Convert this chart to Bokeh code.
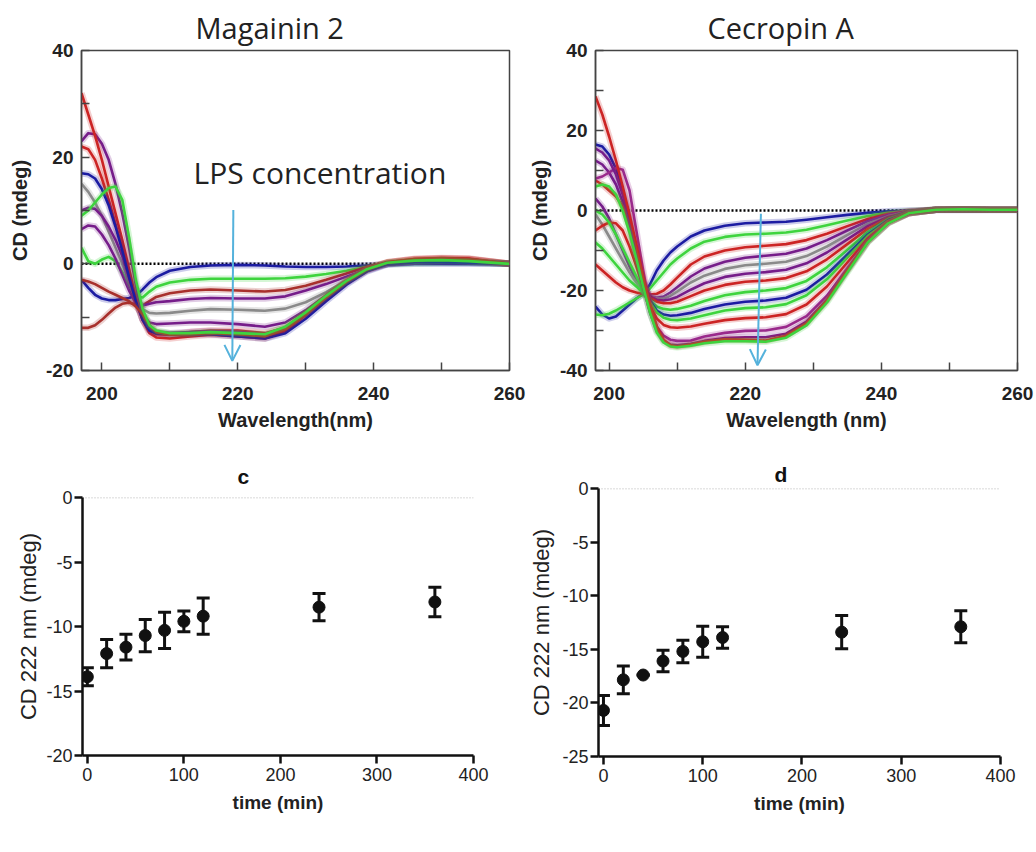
from bokeh.plotting import figure
from bokeh.models import (Range1d, FixedTicker, Arrow, OpenHead, Label, Whisker,
                          ColumnDataSource, TeeHead, Span, PrintfTickFormatter)
from bokeh.layouts import column, row
from bokeh.embed import file_html
from bokeh.resources import INLINE

# ---------------- data: Magainin 2 spectra ----------------
wl_mag = [197, 198, 199, 200, 201, 202, 203, 204, 205, 206, 207, 208, 210, 213,
          216, 220, 224, 227, 230, 233, 236, 239, 242, 246, 250, 254, 260]

m_blue1 = [-3.0, -4.5, -5.8, -6.5, -6.8, -6.8, -6.6, -6.4, -6.0, -4.8, -3.5, -2.5, -1.3, -0.6,
           -0.3, -0.2, -0.3, -0.5, -0.6, -0.6, -0.5, -0.3, -0.1, 0.0, 0.0, 0.0, 0.0]
m_green1 = [3.0, 0.5, 0.0, 0.8, 1.3, 0.5, -1.5, -4.0, -6.0, -6.3, -5.2, -4.3, -3.5, -3.0,
            -2.8, -2.8, -2.8, -2.7, -2.4, -1.9, -1.3, -0.6, -0.1, 0.1, 0.2, 0.2, 0.0]
m_red1 = [-12.0, -12.0, -11.5, -10.5, -9.3, -8.2, -7.5, -7.3, -7.6, -7.8, -7.0, -6.2, -5.5, -5.0,
          -4.8, -5.0, -5.2, -4.9, -4.1, -3.0, -1.8, -0.6, 0.2, 0.7, 0.9, 0.8, 0.0]
m_purple1 = [6.5, 7.2, 7.0, 5.5, 3.5, 1.0, -2.0, -5.0, -7.3, -7.8, -7.5, -7.2, -7.0, -6.6,
             -6.4, -6.5, -6.5, -6.1, -5.0, -3.8, -2.4, -1.0, 0.0, 0.4, 0.5, 0.4, 0.0]
m_gray = [15.0, 13.5, 11.5, 9.0, 6.0, 3.0, 0.0, -3.5, -6.5, -8.5, -9.2, -9.3, -9.2, -8.8,
          -8.5, -8.6, -8.8, -8.4, -7.2, -5.3, -3.1, -1.2, 0.0, 0.4, 0.5, 0.4, 0.0]
m_purple2 = [10.0, 10.5, 10.3, 9.0, 7.0, 4.5, 1.5, -2.5, -6.5, -9.5, -11.0, -11.3, -11.2, -11.0,
             -11.0, -11.3, -11.8, -11.0, -8.7, -5.9, -3.2, -1.1, 0.1, 0.5, 0.7, 0.6, 0.0]
m_green2 = [9.0, 10.0, 11.5, 13.0, 14.2, 14.5, 12.0, 5.0, -3.0, -8.5, -11.5, -12.5, -13.0, -13.0,
            -12.8, -13.0, -13.2, -11.8, -9.1, -6.0, -3.2, -1.0, 0.2, 0.6, 0.7, 0.5, 0.0]
m_red2 = [22.0, 21.5, 19.5, 16.0, 12.0, 7.5, 3.0, -2.0, -7.0, -10.5, -12.5, -13.2, -13.3, -12.8,
          -12.5, -12.5, -13.0, -12.0, -9.3, -6.2, -3.3, -1.0, 0.3, 0.9, 1.0, 0.9, 0.0]
m_red3 = [32.0, 28.0, 24.0, 19.5, 14.5, 9.5, 4.5, -1.0, -6.5, -10.5, -13.0, -13.8, -14.0, -13.6,
          -13.3, -13.6, -14.0, -12.6, -9.6, -6.3, -3.3, -1.0, 0.3, 0.9, 1.1, 1.0, 0.0]
m_purple3 = [23.0, 24.5, 24.3, 22.5, 19.5, 15.0, 9.5, 3.0, -4.0, -9.5, -12.0, -12.8, -13.0, -12.8,
             -12.6, -12.8, -13.3, -12.3, -9.6, -6.6, -3.6, -1.3, 0.0, 0.4, 0.5, 0.4, 0.0]
m_blue2 = [17.0, 16.8, 16.0, 14.0, 11.0, 7.0, 2.5, -2.5, -7.0, -10.5, -12.5, -13.0, -13.2, -13.2,
           -13.2, -13.6, -14.0, -13.0, -10.3, -7.0, -3.9, -1.4, -0.1, 0.3, 0.3, 0.2, 0.0]
m_red4 = [-3.0, -3.3, -3.8, -4.5, -5.2, -5.8, -6.4, -7.0, -8.0, -9.5, -11.5, -12.8, -13.3, -13.2,
          -13.0, -13.2, -13.6, -12.3, -9.4, -6.3, -3.4, -1.1, 0.2, 0.8, 1.0, 0.9, 0.0]

# ---------------- data: Cecropin A spectra ----------------
wl_cec = [198, 199, 200, 201, 202, 203, 204, 205, 206, 207, 208, 209, 210, 212, 214,
          217, 220, 223, 226, 229, 232, 235, 238, 241, 244, 248, 252, 256, 260]

c_blue1 = [-24.0, -26.0, -27.0, -26.5, -25.0, -23.5, -22.0, -20.8, -18.5, -15.0, -12.5, -10.5, -9.0, -6.5, -5.0,
           -3.8, -3.2, -3.0, -2.8, -2.3, -1.7, -1.1, -0.6, -0.2, 0.0, 0.1, 0.1, 0.1, 0.1]
c_green1 = [-26.0, -26.2, -25.8, -25.0, -24.0, -23.0, -22.0, -21.0, -19.5, -17.5, -15.5, -13.5, -12.0, -9.5, -7.8,
            -6.6, -6.0, -5.8, -5.5, -4.8, -3.7, -2.5, -1.4, -0.6, -0.1, 0.2, 0.2, 0.2, 0.2]
c_red1 = [-13.5, -15.0, -16.5, -18.0, -19.2, -20.0, -20.5, -20.8, -21.0, -20.8, -20.0, -18.5, -16.8, -13.5, -11.5,
          -10.0, -9.2, -8.8, -8.4, -7.4, -5.8, -3.9, -2.1, -0.9, -0.2, 0.2, 0.2, 0.2, 0.2]
c_purple1 = [3.0, 1.0, -2.0, -6.0, -10.0, -14.0, -17.5, -20.3, -21.5, -21.8, -21.5, -20.5, -19.2, -16.5, -14.5,
             -12.8, -11.8, -11.3, -10.8, -9.5, -7.4, -5.0, -2.7, -1.1, -0.3, 0.2, 0.2, 0.2, 0.2]
c_gray = [-1.0, -3.5, -6.5, -9.5, -12.5, -15.5, -18.0, -20.3, -21.5, -22.0, -22.0, -21.3, -20.3, -18.0, -16.3,
          -14.6, -13.7, -13.3, -12.8, -11.4, -9.0, -6.1, -3.3, -1.4, -0.3, 0.2, 0.2, 0.2, 0.2]
c_purple2 = [12.5, 11.5, 9.5, 6.5, 2.0, -4.0, -11.0, -18.0, -21.5, -22.3, -22.5, -22.2, -21.6, -19.8, -18.2,
             -16.6, -15.8, -15.4, -14.8, -13.2, -10.5, -7.2, -3.9, -1.6, -0.4, 0.2, 0.3, 0.2, 0.2]
c_red2 = [-5.0, -3.8, -3.0, -3.2, -5.0, -9.0, -14.0, -19.0, -21.8, -22.8, -23.2, -23.2, -22.8, -21.4, -20.0,
          -18.6, -17.8, -17.5, -16.9, -15.2, -12.2, -8.4, -4.6, -1.9, -0.5, 0.2, 0.3, 0.2, 0.2]
c_green2 = [0.0, -1.0, -3.0, -6.0, -9.5, -13.0, -16.5, -20.0, -22.5, -24.0, -24.6, -24.8, -24.6, -23.8, -22.6,
            -21.2, -20.4, -20.0, -19.4, -17.6, -14.2, -9.8, -5.4, -2.2, -0.5, 0.2, 0.3, 0.2, 0.2]
c_blue2 = [16.5, 16.0, 14.0, 10.5, 5.0, -2.0, -10.0, -17.5, -22.5, -25.0, -26.0, -26.3, -26.2, -25.6, -24.6,
           -23.5, -22.8, -22.5, -21.8, -19.8, -16.0, -11.0, -6.0, -2.4, -0.6, 0.2, 0.3, 0.2, 0.2]
c_green3 = [-8.0, -9.5, -11.5, -13.5, -15.5, -17.5, -19.0, -20.5, -23.0, -25.5, -26.8, -27.3, -27.4, -27.0, -26.2,
            -25.0, -24.4, -24.2, -23.4, -21.2, -17.2, -11.8, -6.4, -2.6, -0.6, 0.2, 0.3, 0.2, 0.2]
c_red3 = [7.5, 6.5, 5.0, 3.5, 1.0, -4.0, -11.0, -18.0, -24.0, -27.0, -28.6, -29.2, -29.3, -29.0, -28.3,
          -27.4, -26.9, -26.7, -25.9, -23.5, -19.0, -13.0, -7.0, -2.8, -0.7, 0.2, 0.3, 0.2, 0.2]
c_purple3 = [8.0, 8.5, 9.5, 10.6, 10.2, 5.0, -5.0, -15.0, -24.0, -29.0, -31.3, -32.3, -32.6, -32.5, -31.5,
             -30.6, -30.1, -30.0, -29.1, -26.4, -21.3, -14.5, -7.6, -3.0, -0.7, 0.2, 0.3, 0.2, 0.2]
c_magenta = [15.5, 14.5, 12.5, 9.0, 4.0, -3.0, -11.0, -19.0, -25.5, -30.0, -32.5, -33.5, -33.7, -33.3, -32.6,
             -31.9, -31.7, -31.7, -30.8, -27.8, -22.3, -15.0, -7.8, -3.1, -0.7, 0.2, 0.3, 0.2, 0.2]
c_red4 = [28.5, 24.0, 18.5, 12.5, 6.0, -1.0, -8.5, -16.5, -23.5, -29.0, -32.3, -33.7, -34.0, -33.5, -32.8,
          -32.2, -32.3, -32.5, -31.3, -28.2, -22.5, -15.0, -7.8, -3.1, -0.7, 0.2, 0.3, 0.2, 0.2]
c_green4 = [6.0, 6.5, 6.0, 4.0, 0.0, -5.5, -12.0, -19.0, -25.5, -30.5, -33.0, -34.0, -34.2, -33.8, -33.2,
            -32.7, -32.7, -32.8, -31.8, -28.7, -23.0, -15.5, -8.0, -3.2, -0.7, 0.2, 0.3, 0.2, 0.2]

# ---------------- data: CD at 222 nm over time ----------------
time_min = [0, 20, 40, 60, 80, 100, 120, 240, 360]
mag_222 = [-13.9, -12.1, -11.6, -10.7, -10.3, -9.6, -9.2, -8.5, -8.1]
mag_err = [0.7, 1.1, 1.0, 1.25, 1.4, 0.8, 1.4, 1.05, 1.15]
cec_222 = [-20.7, -17.85, -17.4, -16.1, -15.2, -14.3, -13.9, -13.4, -12.9]
cec_err = [1.4, 1.3, 0.0, 1.0, 1.05, 1.45, 1.0, 1.55, 1.5]

RED = "#cc2424"
DARKRED = "#a8302c"
PURPLE = "#761d8a"
MAGENTA = "#9a2a8c"
BLUE = "#1c1ca2"
GREEN = "#3ed43e"
GRAY = "#8a8a8a"
ARROW = "#55b2dc"

mag_curves = [(m_blue1, BLUE), (m_green1, GREEN), (m_red1, DARKRED), (m_purple1, PURPLE),
              (m_gray, GRAY), (m_purple2, PURPLE), (m_red2, RED), (m_purple3, PURPLE),
              (m_red3, RED), (m_blue2, BLUE), (m_red4, DARKRED), (m_green2, GREEN)]
cec_curves = [(c_blue1, BLUE), (c_green1, GREEN), (c_red1, RED), (c_purple1, PURPLE),
              (c_gray, GRAY), (c_purple2, PURPLE), (c_red2, RED), (c_green2, GREEN),
              (c_blue2, BLUE), (c_green3, GREEN), (c_red3, RED), (c_purple3, MAGENTA),
              (c_magenta, PURPLE), (c_red4, RED), (c_green4, GREEN)]

FONT = "Liberation Sans"


def spectrum(title, title_offset, wl, curves, x0, y0, y1, yticks, yminor, xlabel,
             width, mbl, mbr, ylabel_standoff):
    p = figure(width=width, height=450, x_range=Range1d(x0, 260), y_range=Range1d(y0, y1),
               output_backend="svg", toolbar_location=None, frame_align=False,
               min_border_left=mbl, min_border_right=mbr, min_border_top=50, min_border_bottom=80)
    p.title.text = title
    p.title.align = "left"
    p.title.vertical_align = "top"
    p.title.offset = title_offset
    p.title.standoff = 4
    p.title.text_font = "Open Sans"
    p.title.text_font_style = "normal"
    p.title.text_font_size = "29px"
    p.title.text_color = "#222222"
    p.xgrid.visible = False
    p.ygrid.visible = False
    p.outline_line_color = "#444444"
    p.outline_line_width = 1.5
    p.xaxis.ticker = FixedTicker(ticks=[200, 220, 240, 260], minor_ticks=[210, 230, 250])
    p.yaxis.ticker = FixedTicker(ticks=yticks, minor_ticks=yminor)
    for ax in (p.xaxis[0], p.yaxis[0]):
        ax.formatter = PrintfTickFormatter(format="%d")
        ax.axis_line_color = "#444444"
        ax.axis_line_width = 1.5
        ax.major_tick_in = 8
        ax.major_tick_out = 0
        ax.minor_tick_in = 8
        ax.minor_tick_out = 0
        ax.major_tick_line_color = "#444444"
        ax.minor_tick_line_color = "#444444"
        ax.major_tick_line_width = 1.5
        ax.minor_tick_line_width = 1.5
        ax.major_label_text_font = FONT
        ax.major_label_text_font_style = "bold"
        ax.major_label_text_font_size = "19px"
        ax.major_label_text_color = "#222222"
        ax.axis_label_text_font = FONT
        ax.axis_label_text_font_style = "bold"
        ax.axis_label_text_font_size = "20px"
        ax.axis_label_text_color = "#222222"
    p.xaxis.axis_label = xlabel
    p.xaxis.major_label_standoff = 16
    p.xaxis.axis_label_standoff = 6
    p.yaxis.axis_label = "CD (mdeg)"
    p.yaxis.major_label_standoff = 8
    p.yaxis.axis_label_standoff = ylabel_standoff
    p.add_layout(Span(location=0, dimension="width", line_color="black",
                      line_dash="2 2", line_width=2.5, level="underlay"))
    for ys, c in curves:
        p.line(wl, ys, line_color=c, line_width=6.5, line_alpha=0.22, line_join="round")
        p.line(wl, ys, line_color=c, line_width=2.6, line_join="round")
    return p


def timecourse(title, title_offset, title_standoff, mean, err, y0, yticks, width, height,
               mbl, mbr, mbt, ylabel_standoff):
    p = figure(width=width, height=height, x_range=Range1d(-5, 400), y_range=Range1d(y0, 0),
               output_backend="svg", toolbar_location=None, frame_align=False,
               min_border_left=mbl, min_border_right=mbr, min_border_top=mbt, min_border_bottom=64)
    p.title.text = title
    p.title.align = "left"
    p.title.offset = title_offset
    p.title.standoff = title_standoff
    p.title.text_font = FONT
    p.title.text_font_style = "bold"
    p.title.text_font_size = "21px"
    p.title.text_color = "#111111"
    p.xgrid.visible = False
    p.ygrid.visible = False
    p.outline_line_color = None
    p.xaxis.ticker = FixedTicker(ticks=[0, 100, 200, 300, 400], minor_ticks=[])
    p.yaxis.ticker = FixedTicker(ticks=yticks, minor_ticks=[])
    for ax in (p.xaxis[0], p.yaxis[0]):
        ax.formatter = PrintfTickFormatter(format="%d")
        ax.axis_line_color = "#111111"
        ax.axis_line_width = 2.5
        ax.major_tick_in = 0
        ax.major_tick_out = 8
        ax.major_tick_line_color = "#111111"
        ax.major_tick_line_width = 2.5
        ax.minor_tick_line_color = None
        ax.major_label_text_font = FONT
        ax.major_label_text_font_size = "18px"
        ax.major_label_text_color = "#222222"
        ax.axis_label_text_font = FONT
        ax.axis_label_text_color = "#222222"
    p.xaxis.axis_label = "time (min)"
    p.xaxis.axis_label_text_font_style = "bold"
    p.xaxis.axis_label_text_font_size = "19px"
    p.xaxis.major_label_standoff = 4
    p.xaxis.axis_label_standoff = 8
    p.yaxis.axis_label = "CD 222 nm (mdeg)"
    p.yaxis.axis_label_text_font_style = "normal"
    p.yaxis.axis_label_text_font_size = "22px"
    p.yaxis.major_label_standoff = 2
    p.yaxis.axis_label_standoff = ylabel_standoff
    p.add_layout(Span(location=0, dimension="width", line_color="#9a9a9a",
                      line_dash="1 2", line_width=1.3, level="underlay"))
    src = ColumnDataSource(dict(t=time_min, m=mean,
                                lo=[m - e for m, e in zip(mean, err)],
                                hi=[m + e for m, e in zip(mean, err)]))
    p.add_layout(Whisker(source=src, base="t", lower="lo", upper="hi",
                         line_color="#111111", line_width=3,
                         lower_head=TeeHead(size=13, line_width=3, line_color="#111111"),
                         upper_head=TeeHead(size=13, line_width=3, line_color="#111111")))
    p.scatter("t", "m", source=src, size=12, color="#111111")
    return p


p1 = spectrum("Magainin 2", 114, wl_mag, mag_curves, 197, -20, 40,
              [-20, 0, 20, 40], [-10, 10, 30], "Wavelength(nm)", 526, 81, 17, 12)
p1.add_layout(Arrow(end=OpenHead(size=16, line_color=ARROW, line_width=2),
                    x_start=219.35, y_start=10.1, x_end=219.2, y_end=-18.2,
                    line_color=ARROW, line_width=2))
p1.add_layout(Label(x=213.5, y=17.1, text="LPS concentration", text_font="Open Sans",
                    text_font_size="30px", text_color="#222222", text_baseline="alphabetic"))

p2 = spectrum("Cecropin A", 112, wl_cec, cec_curves, 198, -40, 40,
              [-40, -20, 0, 20, 40], [-30, -10, 10, 30], "Wavelength (nm)", 510, 67, 19, 6)
p2.add_layout(Arrow(end=OpenHead(size=16, line_color=ARROW, line_width=2),
                    x_start=222.3, y_start=-0.8, x_end=221.8, y_end=-38.7,
                    line_color=ARROW, line_width=2))

p3 = timecourse("c", 155, 20, mag_222, mag_err, -20, [-20, -15, -10, -5, 0],
                526, 369, 82, 53, 47, 2)
p4 = timecourse("d", 176, 6, cec_222, cec_err, -25, [-25, -20, -15, -10, -5, 0],
                510, 370, 66, 36, 38, 5)

layout = column(row(p1, p2), row(p3, p4))
open("out.html", "w").write(file_html(layout, INLINE))
